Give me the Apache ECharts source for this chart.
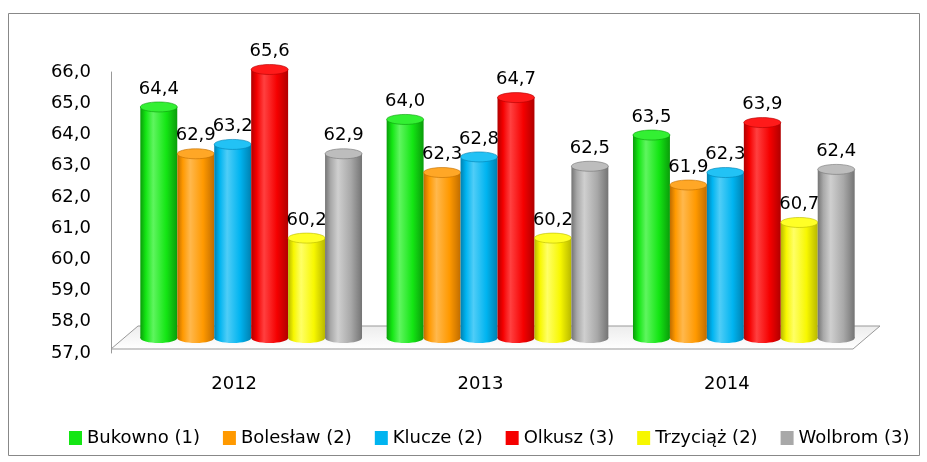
<!DOCTYPE html>
<html>
<head>
<meta charset="utf-8">
<script src="https://cdn.jsdelivr.net/npm/echarts@6/dist/echarts.min.js"></script>
<style>
  html, body { margin: 0; padding: 0; background: #fff; }
  #chart { width: 927px; height: 462px; }
</style>
</head>
<body>
<div id="chart"></div>
<script>
const categories = ['2012', '2013', '2014'];
const seriesNames = ['Bukowno (1)', 'Bolesław (2)', 'Klucze (2)', 'Olkusz (3)', 'Trzyciąż (2)', 'Wolbrom (3)'];
const bukowno = [64.4, 64.0, 63.5];
const boleslaw = [62.9, 62.3, 61.9];
const klucze = [63.2, 62.8, 62.3];
const olkusz = [65.6, 64.7, 63.9];
const trzyciaz = [60.2, 60.2, 60.7];
const wolbrom = [62.9, 62.5, 62.4];
const yTicks = [57, 58, 59, 60, 61, 62, 63, 64, 65, 66];

const values = [bukowno, boleslaw, klucze, olkusz, trzyciaz, wolbrom];
// base, dark edge, highlight, top colour
const palette = [
    ['#14e614', '#0a9c0a', '#5ff55f', '#33f033'],
    ['#ff9900', '#c06d00', '#ffb84d', '#ffa726'],
    ['#00b4f0', '#0080b0', '#4fcdf7', '#22c2f5'],
    ['#f50000', '#b00000', '#ff4040', '#ff1a1a'],
    ['#f7f700', '#b8b800', '#ffff66', '#ffff26'],
    ['#a8a8a8', '#747474', '#cfcfcf', '#bdbdbd']
];

const fmt = v => v.toFixed(1).replace('.', ',');
const font = '"DejaVu Sans", sans-serif';
const yMin = yTicks[0];
const yMax = yTicks[yTicks.length - 1];

function bodyGradient(c) {
    return new echarts.graphic.LinearGradient(0, 0, 1, 0, [
        { offset: 0, color: c[1] },
        { offset: 0.15, color: c[0] },
        { offset: 0.35, color: c[2] },
        { offset: 0.7, color: c[0] },
        { offset: 1, color: c[1] }
    ]);
}

// cylinder: body + bottom ellipse + top ellipse + value label
function cylinder(i) {
    const c = palette[i];
    return function (params, api) {
        const cat = api.value(0);
        const v = api.value(1);
        const top = api.coord([cat, v]);
        const base = api.coord([cat, yMin]);
        const band = api.size([1, 0])[0];
        const w = band * 0.9 / values.length;
        const x = top[0] - band * 0.45 + i * w;
        const cx = x + w / 2;
        const ry = 5;
        return {
            type: 'group',
            children: [
                {
                    type: 'ellipse',
                    shape: { cx: cx, cy: base[1], rx: w / 2, ry: ry },
                    style: { fill: bodyGradient(c) }
                },
                {
                    type: 'rect',
                    shape: { x: x, y: top[1], width: w, height: base[1] - top[1] },
                    style: { fill: bodyGradient(c) }
                },
                {
                    type: 'ellipse',
                    shape: { cx: cx, cy: top[1], rx: w / 2, ry: ry },
                    style: { fill: c[3], stroke: c[1], lineWidth: 0.6 }
                },
                {
                    type: 'text',
                    z2: 50,
                    style: {
                        text: fmt(v),
                        x: cx,
                        y: top[1] - ry - 4,
                        align: 'center',
                        verticalAlign: 'bottom',
                        fill: '#000',
                        fontSize: 18,
                        fontFamily: font
                    }
                }
            ]
        };
    };
}

const series = values.map((data, i) => ({
    name: seriesNames[i],
    type: 'custom',
    xAxisIndex: 1,
    yAxisIndex: 1,
    data: data.map((v, j) => [j, v]),
    encode: { x: 0, y: 1 },
    itemStyle: { color: palette[i][0] },
    renderItem: cylinder(i),
    z: 2
}));

const chart = echarts.init(document.getElementById('chart'));
chart.setOption({
    animation: false,
    backgroundColor: '#fff',
    graphic: [
        {
            type: 'rect',
            shape: { x: 8.5, y: 13.5, width: 911, height: 442 },
            style: { fill: 'none', stroke: '#888', lineWidth: 1 },
            z: -10
        },
        {
            type: 'polygon',
            shape: { points: [[111, 349], [853, 349], [880, 326], [138, 326]] },
            style: {
                fill: new echarts.graphic.LinearGradient(0, 0, 0, 1, [
                    { offset: 0, color: '#ececec' },
                    { offset: 1, color: '#ffffff' }
                ]),
                stroke: '#999',
                lineWidth: 1
            },
            z: -5
        }
    ],
    legend: {
        data: seriesNames,
        left: 64,
        top: 424,
        icon: 'rect',
        itemWidth: 13,
        itemHeight: 14,
        itemGap: 23,
        textStyle: { color: '#000', fontSize: 18, fontFamily: font }
    },
    grid: [
        { left: 111, right: 77, top: 72, bottom: 109 },
        { left: 128, right: 60, top: 57, bottom: 124 }
    ],
    xAxis: [
        {
            type: 'category',
            gridIndex: 0,
            data: categories,
            axisLine: { show: false },
            axisTick: { show: false },
            axisLabel: { color: '#000', fontSize: 18, fontFamily: font, margin: 22 }
        },
        {
            type: 'category',
            gridIndex: 1,
            data: categories,
            show: false
        }
    ],
    yAxis: [
        {
            type: 'value',
            gridIndex: 0,
            min: yMin,
            max: yMax,
            interval: 1,
            splitLine: { show: false },
            axisLine: { show: true, lineStyle: { color: '#999' } },
            axisTick: { show: false },
            axisLabel: {
                color: '#000',
                fontSize: 18,
                fontFamily: font,
                margin: 20,
                formatter: v => fmt(v)
            }
        },
        {
            type: 'value',
            gridIndex: 1,
            min: yMin,
            max: yMax,
            show: false
        }
    ],
    series: series
});
</script>
</body>
</html>
